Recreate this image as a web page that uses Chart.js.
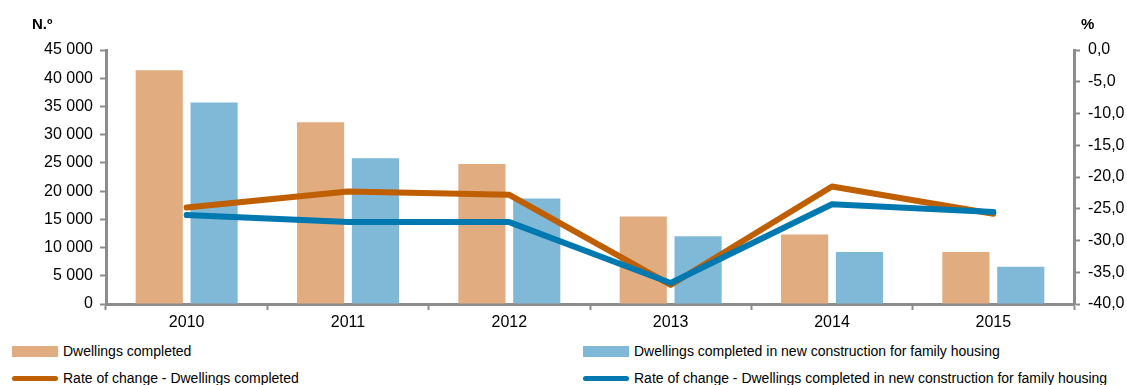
<!DOCTYPE html>
<html lang="en">
<head>
  <meta charset="UTF-8">
  <title>Dwellings completed</title>
  <script src="https://cdn.jsdelivr.net/npm/chart.js"></script>
  <style>
    body {
      margin: 0;
      font-family: "Liberation Sans", Arial, sans-serif;
      background: #fff;
    }
    .wrap {
      position: relative;
      width: 1127px;
      height: 385px;
      overflow: hidden;
    }
    #chart {
      position: absolute;
      left: 0;
      top: 0;
    }
    .legend-item {
      position: absolute;
      font-size: 14px;
      color: #000;
      white-space: nowrap;
      display: flex;
      align-items: center;
    }
    .swatch {
      display: inline-block;
      width: 46px;
      margin-right: 5px;
    }
    .box { height: 11px; }
    .line { height: 5px; border-radius: 3px; }
  </style>
</head>
<body>
  <div class="wrap">
    <canvas id="chart" width="1127" height="335"></canvas>
    <div id="legend"></div>
  </div>

  <script>
    // data
    const years = ["2010", "2011", "2012", "2013", "2014", "2015"];
    const dwellings = [41400, 32200, 24800, 15500, 12300, 9200];
    const dwellingsNew = [35700, 25800, 18700, 12000, 9200, 6600];
    const rateDwellings = [-24.8, -22.3, -22.8, -37.0, -21.5, -25.8];
    const rateDwellingsNew = [-26.0, -27.1, -27.1, -36.7, -24.3, -25.5];

    const labelsLegend = [
      "Dwellings completed",
      "Dwellings completed in new construction  for family housing",
      "Rate of change - Dwellings completed",
      "Rate of change - Dwellings completed  in new construction  for family housing"
    ];

    const colors = {
      barOrange: '#E0AC80',
      barBlue: '#80B9D7',
      lineOrange: '#C05F00',
      lineBlue: '#0078B0',
      axis: '#8C8C8C'
    };

    const font = { family: '"Liberation Sans", Arial, sans-serif', size: 16 };

    // "N.º" and "%" unit labels at the top of each axis
    const unitLabels = {
      id: 'unitLabels',
      afterDraw(chart) {
        const c = chart.ctx;
        c.save();
        c.font = 'bold 15px "Liberation Sans", Arial, sans-serif';
        c.fillStyle = '#000';
        c.textBaseline = 'middle';
        c.textAlign = 'left';
        c.fillText('N.º', 32, 25);
        c.fillText('%', 1081, 25);
        c.restore();
      }
    };

    const ctx = document.getElementById('chart').getContext('2d');
    new Chart(ctx, {
      data: {
        labels: years,
        datasets: [
          {
            type: 'line',
            label: labelsLegend[3],
            data: rateDwellingsNew,
            yAxisID: 'y1',
            borderColor: colors.lineBlue,
            borderWidth: 6,
            borderCapStyle: 'round',
            borderJoinStyle: 'round',
            pointRadius: 0,
            tension: 0,
            order: 0
          },
          {
            type: 'line',
            label: labelsLegend[2],
            data: rateDwellings,
            yAxisID: 'y1',
            borderColor: colors.lineOrange,
            borderWidth: 6,
            borderCapStyle: 'round',
            borderJoinStyle: 'round',
            pointRadius: 0,
            tension: 0,
            order: 1
          },
          {
            type: 'bar',
            label: labelsLegend[0],
            data: dwellings,
            yAxisID: 'y',
            backgroundColor: colors.barOrange,
            categoryPercentage: 0.68,
            barPercentage: 0.86,
            order: 2
          },
          {
            type: 'bar',
            label: labelsLegend[1],
            data: dwellingsNew,
            yAxisID: 'y',
            backgroundColor: colors.barBlue,
            categoryPercentage: 0.68,
            barPercentage: 0.86,
            order: 2
          }
        ]
      },
      options: {
        responsive: false,
        animation: false,
        layout: { padding: { top: 50, left: 0, right: 0, bottom: 0 } },
        plugins: {
          legend: { display: false },
          tooltip: { enabled: false }
        },
        scales: {
          x: {
            offset: true,
            grid: {
              offset: true,
              drawOnChartArea: false,
              drawTicks: true,
              tickLength: 6,
              tickColor: colors.axis,
              tickWidth: 2
            },
            border: { color: colors.axis, width: 3 },
            ticks: { color: '#000', font: font, padding: 3 },
            afterFit(scale) { scale.height = 31; }
          },
          y: {
            position: 'left',
            min: 0,
            max: 45000,
            grid: {
              drawOnChartArea: false,
              tickLength: 6,
              tickColor: colors.axis,
              tickWidth: 2
            },
            border: { color: colors.axis, width: 3 },
            ticks: {
              stepSize: 5000,
              color: '#000',
              font: font,
              padding: 7,
              callback: v => v.toLocaleString('en-US').replace(/,/g, ' ')
            },
            afterFit(scale) { scale.width = 106; }
          },
          y1: {
            position: 'right',
            min: -40,
            max: 0,
            grid: {
              drawOnChartArea: false,
              tickLength: 6,
              tickColor: colors.axis,
              tickWidth: 2
            },
            border: { color: colors.axis, width: 3 },
            ticks: {
              stepSize: 5,
              color: '#000',
              font: font,
              padding: 8,
              callback: v => v.toFixed(1).replace('.', ',')
            },
            afterFit(scale) { scale.width = 53; }
          }
        }
      },
      plugins: [unitLabels]
    });

    // legend in two columns, like the original
    const legendItems = [
      { text: labelsLegend[0], cls: 'box', color: colors.barOrange, x: 12, y: 343 },
      { text: labelsLegend[1], cls: 'box', color: colors.barBlue, x: 583, y: 343 },
      { text: labelsLegend[2], cls: 'line', color: colors.lineOrange, x: 12, y: 370 },
      { text: labelsLegend[3], cls: 'line', color: colors.lineBlue, x: 583, y: 370 }
    ];
    const legend = document.getElementById('legend');
    legendItems.forEach(item => {
      const div = document.createElement('div');
      div.className = 'legend-item';
      div.style.left = item.x + 'px';
      div.style.top = item.y + 'px';
      const sw = document.createElement('span');
      sw.className = 'swatch ' + item.cls;
      sw.style.background = item.color;
      div.appendChild(sw);
      div.appendChild(document.createTextNode(item.text));
      legend.appendChild(div);
    });
  </script>
</body>
</html>
